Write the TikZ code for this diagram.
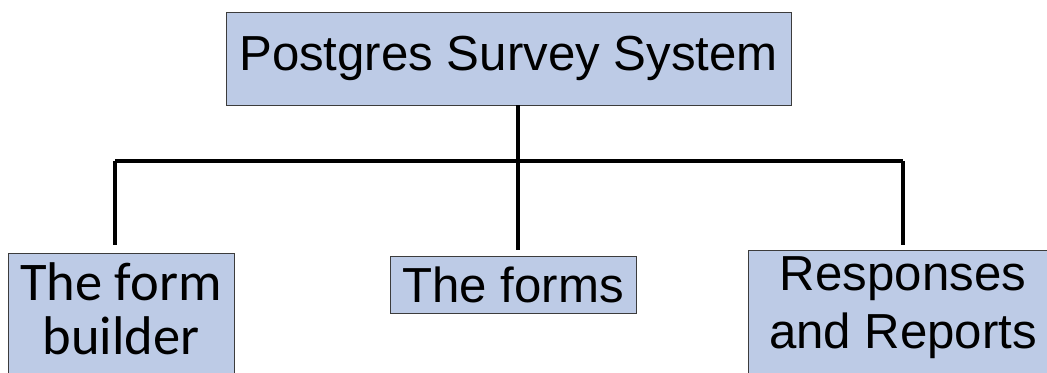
\documentclass[tikz,border=0pt]{standalone}
\usepackage{fontspec}
\setmainfont{Liberation Sans}
\newfontfamily\calfont{Carlito}
\definecolor{boxblue}{RGB}{189,203,230}
\definecolor{boxline}{RGB}{60,60,60}
\tikzset{
  part/.style={rectangle, draw=boxline, line width=0.5pt, fill=boxblue, inner sep=0pt, align=center, font=\fontsize{28}{33}\selectfont},
  parttext/.style={align=center, inner sep=0pt, font=\fontsize{28}{33}\selectfont},
  link/.style={line width=2pt}
}
\begin{document}
\begin{tikzpicture}[x=0.02cm, y=-0.02cm]
        \clip (0,0) rectangle (1047,372);

        % Nodes
        \node (sys) [part, minimum width=565*0.02cm, minimum height=93*0.02cm] at (508.5, 58.5) {Postgres Survey System};
        \node (builder) [part, minimum width=226*0.02cm, minimum height=130*0.02cm] at (121, 318) {};
        \node (builder-text) [parttext, font=\calfont\fontsize{31}{33}\selectfont] at (121, 309) {The form\\[-2pt]builder};
        \node (forms) [part, minimum width=246*0.02cm, minimum height=57*0.02cm] at (513, 284.5) {The forms};
        \node (reports) [part, minimum width=310*0.02cm, minimum height=130*0.02cm] at (903, 315) {};
        \node (reports-text) [parttext] at (903, 308) {Responses\\and Reports};

        % Edges
        \coordinate (hub) at (518, 161);
        \coordinate (left) at (115, 161);
        \coordinate (right) at (903, 161);
        \draw[link] (sys.south -| hub) -- (hub);
        \draw[link] (left) -- (right);
        \draw[link, shorten >=8*0.02cm] (left) -- (left |- builder.north);
        \draw[link, shorten >=6*0.02cm] (hub) -- (hub |- forms.north);
        \draw[link, shorten >=5*0.02cm] (right) -- (right |- reports.north);
    \end{tikzpicture}
\end{document}
